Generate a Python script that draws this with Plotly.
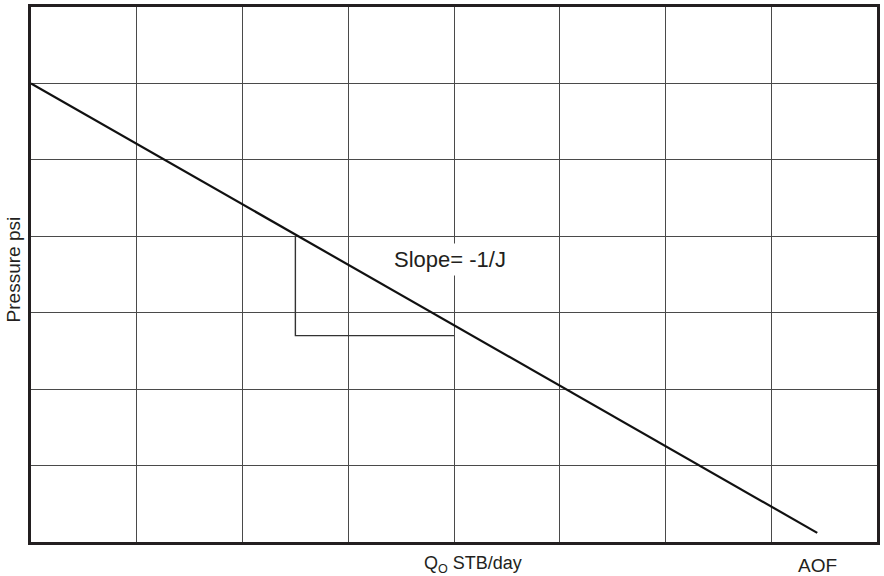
import plotly.graph_objects as go

# Inflow performance relationship: straight-line IPR
q_line = [0.0, 7.435]          # flow rate (grid units)
p_line = [6.0, 0.12]           # pressure (grid units)

# Slope construction triangle
q_tri = [2.5, 2.5, 4.0]
p_tri = [4.0, 2.7, 2.7]

# Axis extents (one grid cell per unit)
q_range = [0, 8]
p_range = [0, 7]

# Label positions along the flow axis
q_label_pos = 4.18
aof_pos = q_line[-1]

FONT = "Liberation Sans, Arial, Helvetica, sans-serif"
TEXT = "#231f20"

fig = go.Figure()
fig.add_trace(go.Scatter(
    x=q_tri, y=p_tri, mode="lines",
    line=dict(color="#333333", width=1.4),
    hoverinfo="skip", showlegend=False,
))
fig.add_trace(go.Scatter(
    x=q_line, y=p_line, mode="lines",
    line=dict(color="#111111", width=2.2),
    hoverinfo="skip", showlegend=False,
))

axis_common = dict(
    showline=True, linecolor="#231f20", linewidth=2.5, mirror=True,
    showgrid=True, gridcolor="#4a4a4a", gridwidth=1,
    zeroline=False, showticklabels=False, ticks="", dtick=1, tick0=0,
    fixedrange=True,
)

fig.update_layout(
    width=884, height=576,
    margin=dict(l=31, r=4, t=7, b=34),
    paper_bgcolor="white", plot_bgcolor="white",
    xaxis=dict(range=q_range, **axis_common),
    yaxis=dict(range=p_range, **axis_common),
    font=dict(family=FONT, color=TEXT),
    annotations=[
        dict(text="Slope= -1/J", x=3.96, y=3.70, xref="x", yref="y",
             showarrow=False, font=dict(size=22, family=FONT, color=TEXT),
             bgcolor="white", borderpad=3, xanchor="center", yanchor="middle"),
        dict(text="Q<sub>O</sub> STB/day", x=q_label_pos, y=0, xref="x", yref="paper",
             showarrow=False, font=dict(size=18, family=FONT, color=TEXT),
             xanchor="center", yanchor="top", yshift=-10, borderpad=0),
        dict(text="AOF", x=aof_pos, y=0, xref="x", yref="paper",
             showarrow=False, font=dict(size=19, family=FONT, color=TEXT),
             xanchor="center", yanchor="middle", yshift=-23),
        dict(text="Pressure psi", x=-0.021, y=0.51, xref="paper", yref="paper",
             showarrow=False, textangle=-90, font=dict(size=19, family=FONT, color=TEXT),
             xanchor="center", yanchor="middle"),
    ],
)

fig.write_html("out.html")
